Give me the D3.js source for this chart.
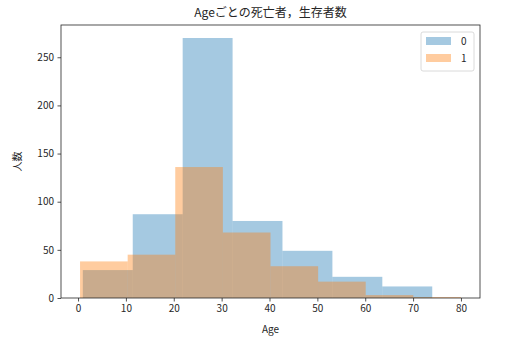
<!DOCTYPE html>
<html lang="ja">
<head>
<meta charset="UTF-8">
<title>Age histogram</title>
<script src="https://d3js.org/d3.v7.min.js"></script>
<style>
  body { margin: 0; background: #fff; }
  text { font-family: "Noto Sans CJK JP", "Noto Sans", sans-serif; fill: #262626; }
</style>
</head>
<body>
<svg id="chart" width="508" height="353"></svg>
<script>
// bin edges and counts
const diedEdges = [1, 11.43, 21.86, 32.29, 42.71, 53.14, 63.57, 74];
const diedCounts = [29, 87, 270, 80, 49, 22, 12];
const survEdges = [0.42, 10.37, 20.31, 30.26, 40.21, 50.16, 60.10, 70.05, 80];
const survCounts = [38, 45, 136, 68, 33, 17, 3, 1];
const seriesNames = ["0", "1"];
const colors = ["#1f77b4", "#ff7f0e"];
const xTicks = [0, 10, 20, 30, 40, 50, 60, 70, 80];
const yTicks = [0, 50, 100, 150, 200, 250];

const svg = d3.select("#chart");
const m = { left: 61, right: 480, top: 25, bottom: 298 };

const xMin = 0.42, xMax = 80, pad = (xMax - xMin) * 0.05;
const x = d3.scaleLinear().domain([xMin - pad, xMax + pad]).range([m.left, m.right]);
const yMax = d3.max(diedCounts.concat(survCounts)) * 1.05;
const y = d3.scaleLinear().domain([0, yMax]).range([m.bottom, m.top]);

function bars(edges, counts, color) {
  const data = counts.map((c, i) => ({ x0: edges[i], x1: edges[i + 1], c }));
  svg.append("g").selectAll("rect").data(data).enter().append("rect")
    .attr("x", d => x(d.x0))
    .attr("width", d => x(d.x1) - x(d.x0))
    .attr("y", d => y(d.c))
    .attr("height", d => y(0) - y(d.c))
    .attr("fill", color)
    .attr("fill-opacity", 0.4);
}
bars(diedEdges, diedCounts, colors[0]);
bars(survEdges, survCounts, colors[1]);

// axes
const xAxis = svg.append("g").attr("transform", `translate(0,${m.bottom})`)
  .call(d3.axisBottom(x).tickValues(xTicks).tickSize(3.5).tickPadding(3.5));
const yAxis = svg.append("g").attr("transform", `translate(${m.left},0)`)
  .call(d3.axisLeft(y).tickValues(yTicks).tickSize(3.5).tickPadding(3.5));
[xAxis, yAxis].forEach(a => {
  a.select(".domain").remove();
  a.selectAll("line").attr("stroke", "#262626").attr("stroke-width", 0.8);
  a.selectAll("text").style("font-size", "10px").attr("fill", "#262626");
});

// frame
svg.append("rect")
  .attr("x", m.left).attr("y", m.top)
  .attr("width", m.right - m.left).attr("height", m.bottom - m.top)
  .attr("fill", "none").attr("stroke", "#262626").attr("stroke-width", 0.8);

// labels
svg.append("text").attr("x", (m.left + m.right) / 2).attr("y", 17)
  .attr("text-anchor", "middle").style("font-size", "12px")
  .text("Ageごとの死亡者，生存者数");
svg.append("text").attr("x", (m.left + m.right) / 2).attr("y", 333)
  .attr("text-anchor", "middle").style("font-size", "10px").text("Age");
svg.append("text").attr("transform", `translate(21,${(m.top + m.bottom) / 2}) rotate(-90)`)
  .attr("text-anchor", "middle").style("font-size", "10px").text("人数");

// legend
const lg = svg.append("g").attr("transform", "translate(421,32)");
lg.append("rect").attr("width", 53).attr("height", 39).attr("rx", 2)
  .attr("fill", "#fff").attr("fill-opacity", 0.8)
  .attr("stroke", "#d0d0d0").attr("stroke-width", 0.8);
seriesNames.forEach((n, i) => {
  lg.append("rect").attr("x", 5).attr("y", 5 + i * 17).attr("width", 25).attr("height", 8)
    .attr("fill", colors[i]).attr("fill-opacity", 0.4);
  lg.append("text").attr("x", 40).attr("y", 13 + i * 17).style("font-size", "10px").text(n);
});
</script>
</body>
</html>
